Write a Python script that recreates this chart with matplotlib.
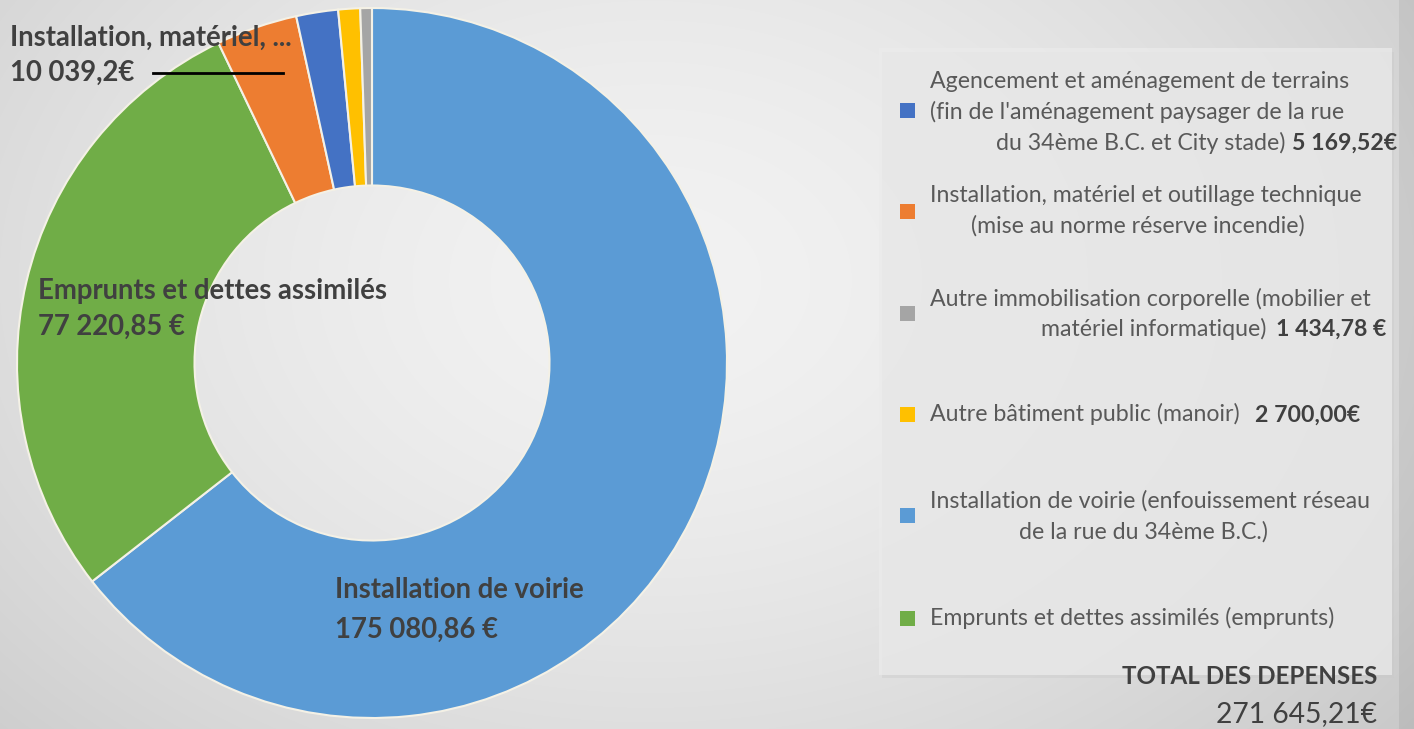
import numpy as np
import matplotlib
matplotlib.use('Agg')
import matplotlib.pyplot as plt
from matplotlib.patches import Rectangle
from matplotlib.lines import Line2D

W, H = 1414, 729

# data, clockwise from 12 o'clock
labels = ["Installation de voirie", "Emprunts et dettes assimilés",
          "Installation, matériel et outillage technique",
          "Agencement et aménagement de terrains",
          "Autre bâtiment public", "Autre immobilisation corporelle"]
values = [175080.86, 77220.85, 10039.2, 5169.52, 2700.00, 1434.78]
colors = ["#5b9bd5", "#70ad47", "#ed7d31", "#4472c4", "#ffc000", "#a5a5a5"]
total_label = "271 645,21€"

plt.rcParams['font.family'] = ['Lato', 'DejaVu Sans']
dark = "#404040"
grey = "#595959"


def px(x, y):
    return x / W, 1 - y / H


fig = plt.figure(figsize=(W / 100, H / 100), dpi=100)
renderer = fig.canvas.get_renderer()


def fit(s, target, bold=False):
    # font size that gives the string the width seen in the picture
    t = fig.text(0, 0, s, fontsize=10, fontweight='bold' if bold else 'normal')
    w = t.get_window_extent(renderer).width
    t.remove()
    return 10 * target / w


# background gradient
bg = fig.add_axes([0, 0, 1, 1], zorder=0)
yy, xx = np.mgrid[0:H, 0:W]
d = np.sqrt(((xx - 650) / 900.0) ** 2 + ((yy - 280) / 650.0) ** 2)
shade = 0.95 - 0.14 * d ** 1.6
shade[:, 1399:] -= 0.05
bg.imshow(np.dstack([shade] * 3).clip(0, 1), extent=[0, W, H, 0], aspect='auto')
bg.set_xlim(0, W)
bg.set_ylim(H, 0)
bg.axis('off')
# legend panel
bg.add_patch(Rectangle((882, 52), 512, 626, color="#c8c8c8", alpha=0.35, lw=0))
bg.add_patch(Rectangle((879, 48), 513, 627, color="#ebebeb", alpha=0.75, lw=0))

# donut
ax = fig.add_axes([17 / W, 11 / H, 710 / W, 710 / H], zorder=1)
ax.pie(values, colors=colors, startangle=90, counterclock=False, radius=1,
       wedgeprops=dict(width=0.5, edgecolor="#f4f1e6", linewidth=1.5))
ax.set_xlim(-1, 1)
ax.set_ylim(-1, 1)
ax.set_aspect('equal')
ax.axis('off')

# data labels
big = fit("Installation de voirie", 250, bold=True)


def lab(x, y, s):
    fig.text(*px(x, y), s, fontsize=big, fontweight='bold', color=dark, va='center', zorder=5)


lab(335, 590, "Installation de voirie")
lab(335, 630, "175 080,86 €")
lab(38, 291, "Emprunts et dettes assimilés")
lab(38, 327, "77 220,85 €")
lab(10, 38, "Installation, matériel, ...")
lab(10, 73, "10 039,2€")
fig.add_artist(Line2D([153 / W, 283 / W], [1 - 73 / H, 1 - 73 / H], color='black', lw=2, zorder=6))

# legend
fs = fit("Agencement et aménagement de terrains", 418)
fsb = fit("5 169,52€", 105, bold=True)
sq = 15


def marker(y, c):
    bg.add_patch(Rectangle((900, y - sq / 2), sq, sq, color=c, lw=0))


def line(x, y, s, ha='left', bold=False, size=None, col=grey):
    if size is None:
        size = fsb if bold else fs
    fig.text(*px(x, y), s, fontsize=size, color=col, ha=ha, va='center',
             fontweight='bold' if bold else 'normal')


marker(110, colors[3])
line(930, 81, "Agencement et aménagement de terrains")
line(930, 112, "(fin de l'aménagement paysager de la rue")
line(1285, 143, "du 34ème B.C. et City stade)", ha='right')
line(1292, 143, "5 169,52€", bold=True, col=dark)

marker(211, colors[2])
line(930, 196, "Installation, matériel et outillage technique")
line(1138, 226, "(mise au norme réserve incendie)", ha='center')

marker(313, colors[5])
line(930, 299, "Autre immobilisation corporelle (mobilier et")
line(1266, 329, "matériel informatique)", ha='right')
line(1276, 329, "1 434,78 €", bold=True, col=dark)

marker(414, colors[4])
line(930, 414, "Autre bâtiment public (manoir)")
line(1255, 415, "2 700,00€", bold=True, col=dark)

marker(515, colors[0])
line(930, 501, "Installation de voirie (enfouissement réseau")
line(1143, 532, "de la rue du 34ème B.C.)", ha='center')

marker(618, colors[1])
line(930, 618, "Emprunts et dettes assimilés (emprunts)")

line(1377, 676, "TOTAL DES DEPENSES", ha='right', bold=True,
     size=fit("TOTAL DES DEPENSES", 255, bold=True), col=dark)
line(1377, 714, total_label, ha='right', size=fit(total_label, 162), col=dark)

fig.savefig("out.png", dpi=100)
